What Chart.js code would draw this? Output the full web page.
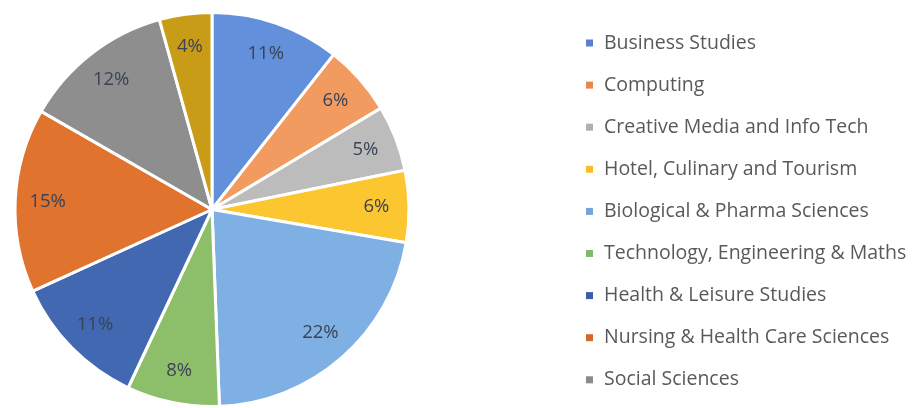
<!DOCTYPE html>
<html>
<head>
<meta charset="utf-8">
<title>Students by department</title>
<script src="https://cdn.jsdelivr.net/npm/chart.js@4.4.1/dist/chart.umd.min.js"></script>
<style>
  html, body { margin: 0; padding: 0; background: #fff; }
  #pie { display: block; }
</style>
</head>
<body>
<canvas id="pie" width="920" height="408"></canvas>
<script>
// departments, clockwise from 12 o'clock
const departments = [
    'Business Studies',
    'Computing',
    'Creative Media and Info Tech',
    'Hotel, Culinary and Tourism',
    'Biological & Pharma Sciences',
    'Technology, Engineering & Maths',
    'Health & Leisure Studies',
    'Nursing & Health Care Sciences',
    'Social Sciences',
    'Other'
];
// share of students (%)
const shares = [10.6, 5.8, 5.4, 5.9, 21.7, 7.6, 11.2, 15.1, 12.4, 4.3];
// the legend in the picture only lists the first nine
const legendCount = 9;

const sliceColors = [
    '#6390db', '#f29b60', '#bcbcbc', '#fcc631', '#7eb0e3',
    '#8dbf6b', '#4168b0', '#e0742f', '#8e8e8e', '#c99c17'
];
const legendColors = [
    '#5a7fcf', '#e8874a', '#b0b0b0', '#f5be2a', '#74a5d6',
    '#86b86a', '#3a5ea3', '#d06a2c', '#8a8a8a'
];

// percentage labels inside the slices
const sliceLabels = {
    id: 'sliceLabels',
    afterDatasetsDraw(chart) {
        const ctx = chart.ctx;
        const meta = chart.getDatasetMeta(0);
        ctx.save();
        ctx.font = '18.5px "Open Sans"';
        ctx.fillStyle = '#3a4254';
        ctx.textAlign = 'center';
        ctx.textBaseline = 'middle';
        meta.data.forEach((arc, i) => {
            const p = arc.getProps(['x', 'y', 'startAngle', 'endAngle', 'outerRadius'], true);
            const mid = (p.startAngle + p.endAngle) / 2;
            const r = p.outerRadius * 0.835;
            const txt = Math.round(chart.data.datasets[0].data[i]) + '%';
            ctx.fillText(txt, p.x + Math.cos(mid) * r, p.y + Math.sin(mid) * r);
        });
        ctx.restore();
    }
};

// legend on the right, one row per department
const sideLegend = {
    id: 'sideLegend',
    afterDraw(chart) {
        const ctx = chart.ctx;
        ctx.save();
        ctx.font = '19.5px "Open Sans"';
        ctx.textBaseline = 'middle';
        for (let i = 0; i < legendCount; i++) {
            const y = 43 + i * 42.1;
            ctx.fillStyle = legendColors[i];
            ctx.fillRect(586, y - 3.5, 7, 7);
            ctx.fillStyle = '#595959';
            ctx.fillText(chart.data.labels[i], 604, y);
        }
        ctx.restore();
    }
};

new Chart(document.getElementById('pie'), {
    type: 'pie',
    data: {
        labels: departments,
        datasets: [{
            data: shares,
            backgroundColor: sliceColors,
            borderColor: '#ffffff',
            borderWidth: 3,
            hoverOffset: 0
        }]
    },
    options: {
        responsive: false,
        animation: false,
        layout: { padding: { left: 13, right: 509, top: 11, bottom: 0 } },
        plugins: {
            legend: { display: false },
            tooltip: { enabled: false }
        }
    },
    plugins: [sliceLabels, sideLegend]
});
</script>
</body>
</html>
